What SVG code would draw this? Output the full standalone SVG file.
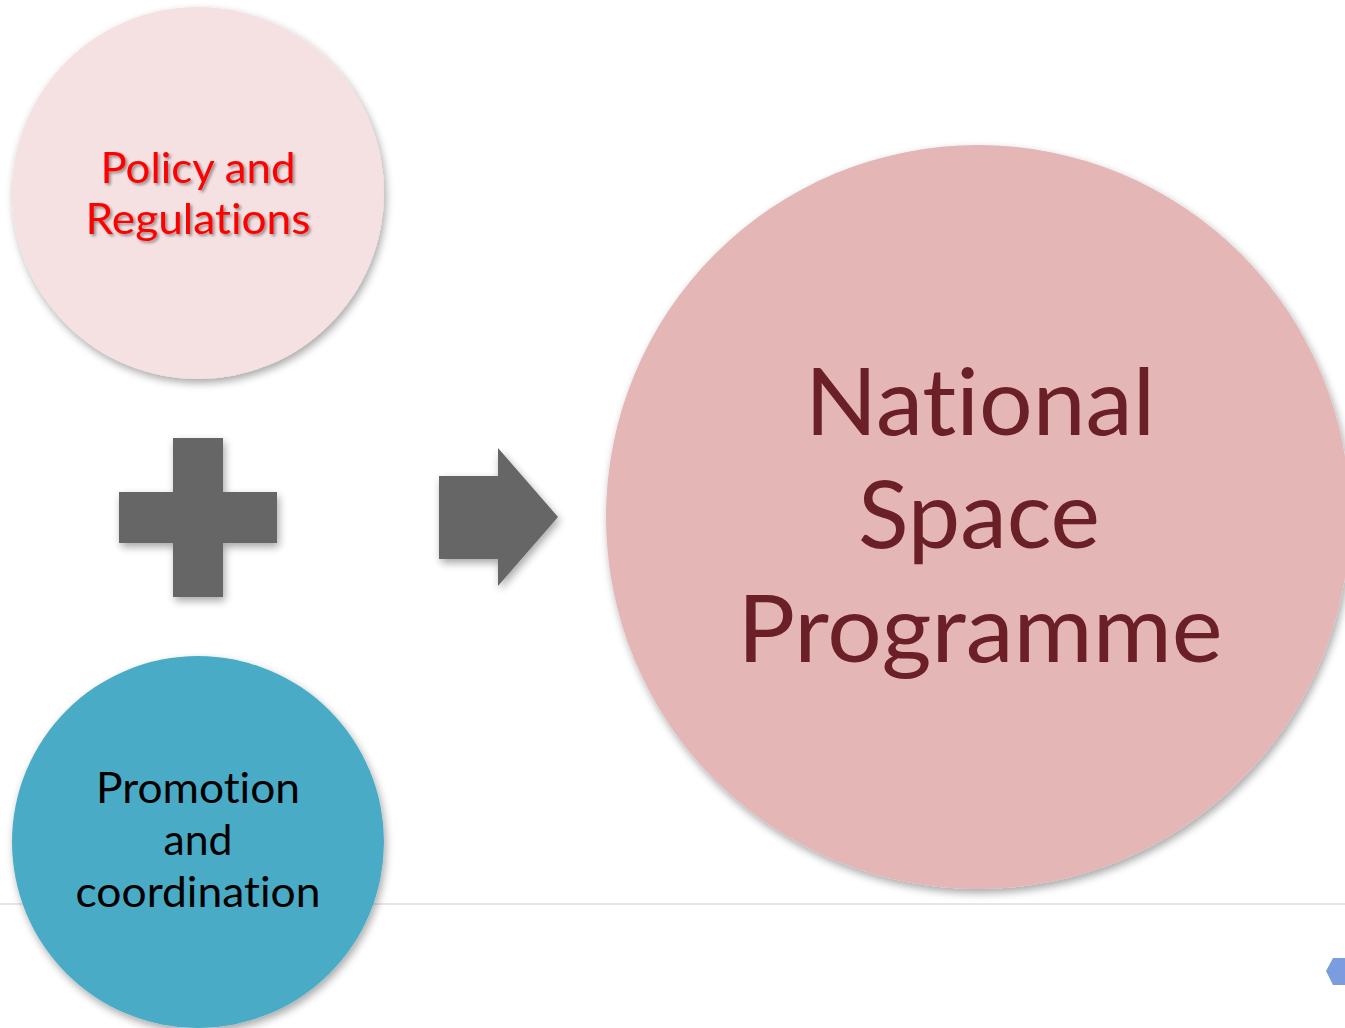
<svg xmlns="http://www.w3.org/2000/svg" width="1345" height="1028" viewBox="0 0 1345 1028">
<defs>
<filter id="sh" x="-10%" y="-10%" width="125%" height="125%">
<feGaussianBlur in="SourceAlpha" stdDeviation="4"/>
<feOffset dx="2" dy="4"/>
<feComponentTransfer><feFuncA type="linear" slope="0.35"/></feComponentTransfer>
<feMerge><feMergeNode/><feMergeNode in="SourceGraphic"/></feMerge>
</filter>
<filter id="tsh" x="-10%" y="-20%" width="125%" height="150%">
<feGaussianBlur in="SourceAlpha" stdDeviation="1.5"/>
<feOffset dx="1.5" dy="2"/>
<feComponentTransfer><feFuncA type="linear" slope="0.4"/></feComponentTransfer>
<feMerge><feMergeNode/><feMergeNode in="SourceGraphic"/></feMerge>
</filter>
</defs>
<style>
text{font-family:Lato,"Open Sans","Liberation Sans",sans-serif;text-anchor:middle;font-variant-ligatures:none;font-feature-settings:"liga" 0,"clig" 0,"dlig" 0}
.small{font-size:42px}
.big{font-size:93px;fill:#6a2026}
.red{fill:#ff0000}
.blk{fill:#000}
.gray{fill:#666666}
</style>
<rect width="1345" height="1028" fill="#ffffff"/>
<line x1="0" y1="904" x2="1345" y2="904" stroke="#e6e6e6" stroke-width="2"/>
<g id="node-policy">
<circle cx="198" cy="193" r="186" fill="#f5e1e2" filter="url(#sh)"/>
<g filter="url(#tsh)">
<text class="small red" x="198" y="183" textLength="195" lengthAdjust="spacingAndGlyphs">Policy and</text>
<text class="small red" x="198" y="234" textLength="225" lengthAdjust="spacingAndGlyphs">Regulations</text>
</g>
</g>
<g id="node-promotion">
<circle cx="198" cy="842" r="186" fill="#4aabc5" filter="url(#sh)"/>
<text class="small blk" x="198" y="803" textLength="204" lengthAdjust="spacingAndGlyphs">Promotion</text>
<text class="small blk" x="198" y="855" textLength="69" lengthAdjust="spacingAndGlyphs">and</text>
<text class="small blk" x="198" y="907" textLength="245" lengthAdjust="spacingAndGlyphs">coordination</text>
</g>
<g id="node-plus">
<path class="gray" d="M173,438 H223 V492 H277 V543 H223 V597 H173 V543 H119 V492 H173 Z" filter="url(#sh)"/>
</g>
<g id="connectors">
<path class="gray" d="M439,476 H498 V448 L558,517 L498,586 V559 H439 Z" filter="url(#sh)"/>
</g>
<g id="node-nsp">
<circle cx="978" cy="517" r="372" fill="#e4b6b6" filter="url(#sh)"/>
<text class="big" x="980" y="435" textLength="350" lengthAdjust="spacingAndGlyphs">National</text>
<text class="big" x="979" y="548" textLength="242" lengthAdjust="spacingAndGlyphs">Space</text>
<text class="big" x="980" y="662" textLength="485" lengthAdjust="spacingAndGlyphs">Programme</text>
</g>
<polygon points="1326,971 1333,958 1348,958 1352,971 1345,985 1333,985" fill="#7b9de0"/>
</svg>
